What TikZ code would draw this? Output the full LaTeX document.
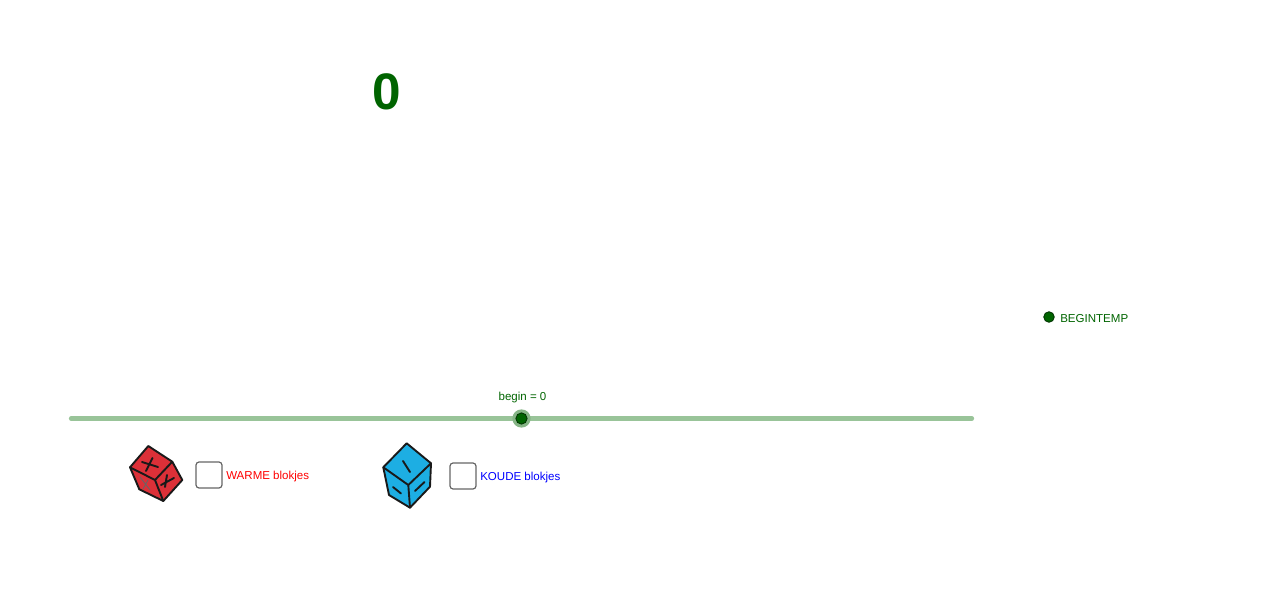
\documentclass[tikz,border=0pt]{standalone}
\usepackage{fontspec}
\setmainfont{Liberation Sans}
\definecolor{dgreen}{HTML}{006400}
\definecolor{track}{HTML}{99C499}
\definecolor{halocol}{HTML}{86B586}
\definecolor{warm}{HTML}{DC3038}
\definecolor{cold}{HTML}{1DAEE3}
\tikzset{
  lbl/.style={inner sep=0pt,font=\fontsize{8.2pt}{10pt}\selectfont},
  box/.style={draw=black!60,line width=0.85pt,rounded corners=2.2pt,fill=white,
    minimum width=18.5pt,minimum height=18.5pt,inner sep=0pt},
  dot/.style={circle,draw=black!80!green,line width=0.6pt,fill=dgreen,inner sep=0pt},
  edge/.style={line width=1.35pt,line join=round,line cap=round,draw=black!90}
}
\begin{document}
\begin{tikzpicture}[x=0.025cm,y=-0.025cm]
      \useasboundingbox (0,0) rectangle (1278,598);
      \node[font=\bfseries\fontsize{36.5pt}{40pt}\selectfont,text=dgreen,inner sep=0pt] (count) at (386.5,92) {0};
      % slider
      \coordinate (s1) at (71,418.5);
      \coordinate (s2) at (972,418.5);
      \draw[track,line width=3pt,line cap=round] (s1) -- (s2);
      \node[circle,fill=halocol,minimum size=13pt,inner sep=0pt] (halo) at (521.5,418.5) {};
      \node[dot,minimum size=8pt] (knob) at (halo) {};
      \node[lbl,text=dgreen] (begin) at (522.5,397.5) {begin = 0};
      % point
      \node[dot,minimum size=7.5pt] (pt) at (1049,317) {};
      \node[lbl,text=dgreen,anchor=west] (temp) at (1060,318.8) {BEGINTEMP};
      % checkboxes
      \node[box] (chkA) at (209,475) {};
      \node[box] (chkB) at (463,476) {};
      \node[lbl,text=red,anchor=west] (warmt) at (226,476.6) {WARME blokjes};
      \node[lbl,text=blue,anchor=west] (koudt) at (480,477.6) {KOUDE blokjes};
      % red cube
      \fill[warm] (148.3,446) -- (130,467.3) -- (139.3,489.3) -- (163.3,501) -- (182.3,480) -- (172.3,461.7) -- cycle;
      \draw[edge] (148.3,446) -- (130,467.3) -- (139.3,489.3) -- (163.3,501) -- (182.3,480) -- (172.3,461.7) -- cycle;
      \draw[edge] (130,467.3) -- (155,480) -- (172.3,461.7) (155,480) -- (163.3,501);
      \draw[edge] (152.5,458) -- (146,471) (142,462) -- (158,467);
      \draw[edge] (167,475) -- (165,487) (161,485) -- (174,478);
      \draw[edge,black!60,line width=0.6pt] (140,477) -- (150,490) (143,489) -- (148,480);
      % blue cube
      \fill[cold] (406.7,443.3) -- (383.3,467.3) -- (389,495) -- (410,507.7) -- (430,486.7) -- (431,463.3) -- cycle;
      \draw[edge] (406.7,443.3) -- (383.3,467.3) -- (389,495) -- (410,507.7) -- (430,486.7) -- (431,463.3) -- cycle;
      \draw[edge] (383.3,467.3) -- (408.3,485) -- (431,463.3) (408.3,485) -- (410,507.7);
      \draw[edge] (403,461) -- (410,472);
      \draw[edge] (393,487) -- (401,493.5);
      \draw[edge] (415,491) -- (424.5,482);
    \end{tikzpicture}
\end{document}
